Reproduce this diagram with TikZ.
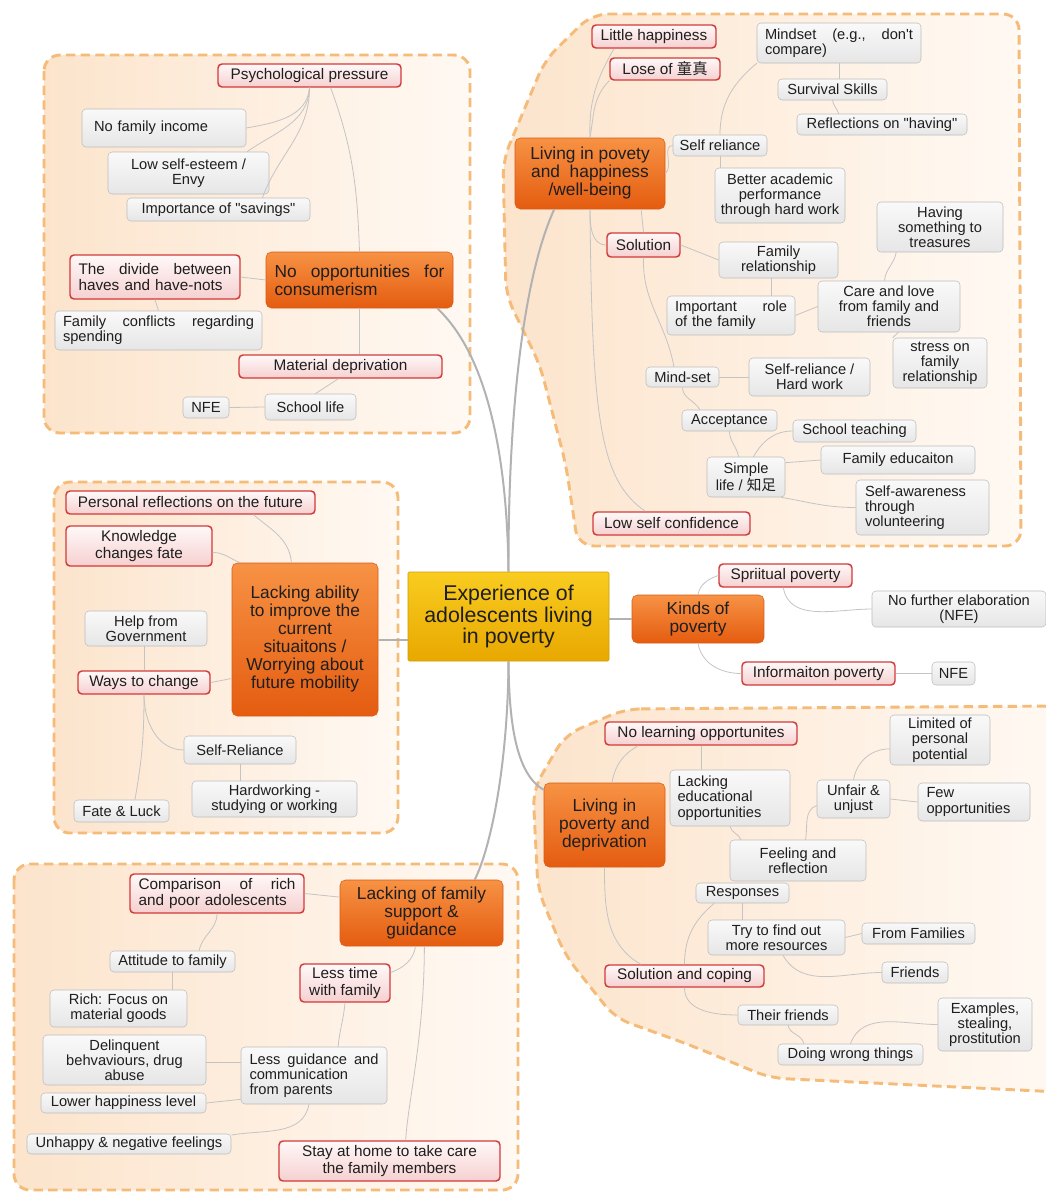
\documentclass[tikz,border=0pt]{standalone}
\usepackage{fontspec}
\setmainfont{Liberation Sans}
\newfontfamily\cjk{Noto Sans CJK SC}
\definecolor{textdark}{HTML}{1E1E1E}
\definecolor{leafline}{HTML}{BDBDBD}
\definecolor{leaftop}{HTML}{F9F9F9}
\definecolor{leafbot}{HTML}{E6E6E6}
\definecolor{subline}{HTML}{D23A3A}
\definecolor{subtop}{HTML}{FFF8F8}
\definecolor{subbot}{HTML}{F6D0D0}
\definecolor{topicline}{HTML}{D95B14}
\definecolor{topictop}{HTML}{F79244}
\definecolor{topicbot}{HTML}{E45C10}
\definecolor{rootline}{HTML}{C9A000}
\definecolor{roottop}{HTML}{F9CC20}
\definecolor{rootbot}{HTML}{E8A800}
\definecolor{blobline}{HTML}{F5BB78}
\definecolor{blobleft}{HTML}{FCE4CC}
\definecolor{blobright}{HTML}{FFF9F3}
\definecolor{linkgray}{HTML}{C4C4C4}
\definecolor{trunkgray}{HTML}{B2B2B2}

\begin{document}
\begin{tikzpicture}[
    x=0.75pt, y=-0.75pt,
    sz/.style 2 args={minimum width=#1*0.75pt, minimum height=#2*0.75pt},
    tw/.style={text width=#1*0.75pt, align=left},
    boxbase/.style={rectangle, rounded corners=3pt, inner sep=2pt, text=textdark, align=center},
    leaf/.style={boxbase, draw=leafline, top color=leaftop, bottom color=leafbot, font=\fontsize{11}{11.4}\selectfont},
    sub/.style={boxbase, draw=subline, line width=1.1pt, top color=subtop, bottom color=subbot, font=\fontsize{11.5}{12.5}\selectfont},
    topic/.style={boxbase, rounded corners=4pt, draw=topicline, top color=topictop, bottom color=topicbot, font=\fontsize{13}{13.5}\selectfont},
    rootbox/.style={boxbase, rounded corners=1pt, draw=rootline, top color=roottop, bottom color=rootbot, font=\fontsize{16}{16}\selectfont},
    blob/.style={draw=blobline, line width=2.2pt, dash pattern=on 7pt off 4pt, rounded corners=12pt, left color=blobleft, right color=blobright},
    link/.style={draw=linkgray, line width=0.6pt},
    trunk/.style={draw=trunkgray, line width=1.5pt}
]
\path[use as bounding box, fill=white] (0,0) rectangle (1046,1193);

% Areas
\draw[blob] (44,55) rectangle (470,433);
\draw[blob] (592,14) -- (1019,14) -- (1021,546) -- (578,546) -- (566,465) -- (540,365) -- (506,295) -- (503,160) -- (545,60) -- cycle;
\draw[blob] (54,482) rectangle (398,833);
\draw[blob] (625,709) -- (1060,706) -- (1060,1092) -- (770,1078) -- (690,1045) -- (615,1018) -- (565,955) -- (538,890) -- (533,790) -- (565,735) -- cycle;
\draw[blob] (14,864) rectangle (518,1190);

% Central topic
\node[rootbox, sz={201}{89}] (root) at (508.5,616.5) {Experience of\\adolescents living\\in poverty};

% Main topics
\node[topic, sz={187}{56}, tw=170] (noopp) at (359.5,280) {No\hfill opportunities\hfill for\\consumerism};
\node[topic, sz={150}{71}] (happy) at (590,173.5) {Living in povety\\and\ \ happiness\\/well-being};
\node[topic, sz={146}{153}] (ability) at (305,639.5) {Lacking ability\\to improve the\\current\\situaitons /\\Worrying about\\future mobility};
\node[topic, sz={132}{48}] (kinds) at (698,619) {Kinds of\\poverty};
\node[topic, sz={121}{84}] (depriv) at (604.5,825) {Living in\\poverty and\\deprivation};
\node[topic, sz={163}{66}] (family) at (421.5,913) {Lacking of family\\support \&\\guidance};

% Consumerism
\node[sub, sz={183}{23}] (psych) at (309.5,75.5) {Psychological pressure};
\node[leaf, sz={164}{38}, tw=140] (income) at (164,128) {No family income};
\node[leaf, sz={161}{42}] (esteem) at (188.5,173) {Low self-esteem /\\Envy};
\node[leaf, sz={183}{23}] (savings) at (218.5,209.5) {Importance of \textquotedbl savings\textquotedbl};
\node[sub, sz={170}{44}, tw=153] (divide) at (155,277) {The\hfill divide\hfill between\\haves and have-nots};
\node[leaf, sz={207}{39}, tw=191] (conflicts) at (158.5,330.5) {Family\hfill conflicts\hfill regarding\\spending};
\node[sub, sz={203}{23}] (material) at (340.5,366.5) {Material deprivation};
\node[leaf, sz={91}{26}] (school) at (310.5,407) {School life};
\node[leaf, sz={46}{21}] (nfeA) at (206,407.5) {NFE};

% Happiness
\node[sub, sz={124}{23}] (little) at (654,36.5) {Little happiness};
\node[sub, sz={110}{22}] (lose) at (665,69) {Lose of {\cjk 童真}};
\node[leaf, sz={164}{40}, tw=148] (mindset) at (839,43) {Mindset\hfill (e.g.,\hfill don\textquotesingle t\\compare)};
\node[leaf, sz={109}{21}] (survival) at (832.5,89.5) {Survival Skills};
\node[leaf, sz={170}{21}] (reflect) at (882,124.5) {Reflections on \textquotedbl having\textquotedbl};
\node[leaf, sz={94}{21}] (selfrel) at (720,145.5) {Self reliance};
\node[leaf, sz={130}{55}] (academic) at (780,195.5) {Better academic\\performance\\through hard work};
\node[leaf, sz={126}{50}] (treasure) at (940,227) {Having\\something to\\treasures};
\node[sub, sz={73}{24}] (solution) at (643.5,245) {Solution};
\node[leaf, sz={119}{36}] (famrel) at (778.5,260) {Family\\relationship};
\node[leaf, sz={128}{39}, tw=112] (role) at (731,315.5) {Important\hfill role\\of the family};
\node[leaf, sz={142}{51}] (care) at (889,306.5) {Care and love\\from family and\\friends};
\node[leaf, sz={94}{50}] (stress) at (940,363) {stress on\\family\\relationship};
\node[leaf, sz={73}{20}] (mindset2) at (682.5,377) {Mind-set};
\node[leaf, sz={121}{38}] (hardwork) at (809.5,377) {Self-reliance /\\Hard work};
\node[leaf, sz={95}{21}] (accept) at (729.5,420.5) {Acceptance};
\node[leaf, sz={123}{22}] (teaching) at (854.5,431) {School teaching};
\node[leaf, sz={78}{40}] (simple) at (746,477) {Simple\\life / {\cjk 知足}};
\node[leaf, sz={154}{28}] (famedu) at (898,460) {Family educaiton};
\node[leaf, sz={133}{55}, tw=115] (aware) at (922.5,507.5) {Self-awareness\\through\\volunteering};
\node[sub, sz={157}{23}] (lowconf) at (671.5,523.5) {Low self confidence};

% Future mobility
\node[sub, sz={249}{23}] (personal) at (190.5,502.5) {Personal reflections on the future};
\node[sub, sz={146}{40}] (knowledge) at (139,546) {Knowledge\\changes fate};
\node[leaf, sz={122}{35}] (gov) at (146,628.5) {Help from\\Government};
\node[sub, sz={132}{23}] (ways) at (144,682.5) {Ways to change};
\node[leaf, sz={112}{28}] (selfrel2) at (240,750) {Self-Reliance};
\node[leaf, sz={165}{36}] (hardwk2) at (274.5,799) {Hardworking -\\studying or working};
\node[leaf, sz={95}{22}] (fate) at (121.5,811) {Fate \& Luck};

% Kinds of poverty
\node[sub, sz={133}{23}] (spiritual) at (785.5,575.5) {Spriitual poverty};
\node[leaf, sz={174}{36}] (nfelab) at (959,609) {No further elaboration\\(NFE)};
\node[sub, sz={153}{23}] (info) at (818.5,673.5) {Informaiton poverty};
\node[leaf, sz={43}{23}] (nfeB) at (953.5,673.5) {NFE};

% Deprivation
\node[sub, sz={192}{23}] (nolearn) at (701,733.5) {No learning opportunites};
\node[leaf, sz={120}{56}, tw=105] (lackedu) at (730,798) {Lacking\\educational\\opportunities};
\node[leaf, sz={100}{50}] (limited) at (940,740) {Limited of\\personal\\potential};
\node[leaf, sz={73}{38}] (unfair) at (853.5,799) {Unfair \&\\unjust};
\node[leaf, sz={112}{38}, tw=95] (few) at (974,802) {Few\\opportunities};
\node[leaf, sz={136}{41}] (feeling) at (798,860.5) {Feeling and\\reflection};
\node[leaf, sz={93}{20}] (responses) at (742.5,893) {Responses};
\node[leaf, sz={137}{35}] (tryfind) at (776.5,937.5) {Try to find out\\more resources};
\node[leaf, sz={113}{21}] (fromfam) at (918.5,933.5) {From Families};
\node[leaf, sz={66}{21}] (friends) at (915,972.5) {Friends};
\node[sub, sz={159}{22}] (coping) at (684.5,976) {Solution and coping};
\node[leaf, sz={100}{20}] (theirfr) at (788,1015) {Their friends};
\node[leaf, sz={94}{53}] (examples) at (985,1024.5) {Examples,\\stealing,\\prostitution};
\node[leaf, sz={145}{21}] (wrong) at (850.5,1054.5) {Doing wrong things};

% Family support
\node[sub, sz={174}{39}, tw=157] (compare) at (217,893.5) {Comparison\hfill of\hfill rich\\and poor adolescents};
\node[leaf, sz={125}{21}] (attitude) at (172.5,961.5) {Attitude to family};
\node[leaf, sz={137}{37}] (rich) at (118.5,1008.5) {Rich: Focus on\\material goods};
\node[sub, sz={90}{38}] (lesstime) at (345,983) {Less time\\with family};
\node[leaf, sz={163}{50}] (delinq) at (124.5,1060) {Delinquent\\behvaviours, drug\\abuse};
\node[leaf, sz={146}{57}, tw=129] (guidance) at (314,1075.5) {Less\hfill guidance\hfill and\\communication\\from parents};
\node[leaf, sz={165}{20}] (lower) at (123.5,1103) {Lower happiness level};
\node[leaf, sz={204}{20}] (unhappy) at (129,1144) {Unhappy \& negative feelings};
\node[sub, sz={221}{40}] (stayhome) at (389.5,1161) {Stay at home to take care\\the family members};

% Main branches
\draw[trunk] (noopp.-20) .. controls (482,350) and (507,440) .. (root.north);
\draw[trunk] (happy.-135) .. controls (522,280) and (508,420) .. (root.north);
\draw[trunk] (ability.east) -- (ability.east -| root.west);
\draw[trunk] (kinds.west) -- (kinds.west -| root.east);
\draw[trunk] (root.south) .. controls (509,730) and (518,775) .. (depriv.150);
\draw[trunk] (root.south) .. controls (508,760) and (492,845) .. (family.32);

% Consumerism links
\draw[link] (psych.south) to[out=-95,in=10] (income.east);
\draw[link] (psych.south) to[out=-92,in=35] (esteem.20);
\draw[link] (psych.south) to[out=-90,in=70] (savings.15);
\draw[link] (psych.-30) to[out=-70,in=92] (noopp.north);
\draw[link] (divide.east) -- (noopp.west);
\draw[link] (divide.south) -- (conflicts.north);
\draw[link] (noopp.south) -- (noopp.south |- material.north);
\draw[link] (material.-100) -- (school.70);
\draw[link] (school.west) -- (nfeA.east);

% Happiness links
\draw[link] (happy.north) to[out=92,in=-120] (little.-163);
\draw[link] (happy.north) to[out=80,in=-135] (lose.south west);
\draw[link] (happy.east) to[out=40,in=180] (selfrel.west);
\draw[link] (selfrel.north) to[out=90,in=-140] (mindset.south west);
\draw[link] (selfrel.south) -- (selfrel.south |- academic.north);
\draw[link] (mindset.south) -- (mindset.south |- survival.north);
\draw[link] (survival.south) to[out=-80,in=110] (reflect.166);
\draw[link] (happy.south) to[out=-90,in=180] (solution.west);
\draw[link] (happy.-35) -- (solution.north);
\draw[link] (solution.east) -- (famrel.west);
\draw[link] (famrel.-110) -- (famrel.-110 |- role.north);
\draw[link] (role.east) -- (care.west);
\draw[link] (care.100) to[out=85,in=-100] (treasure.-150);
\draw[link] (care.-70) -- (stress.north west);
\draw[link] (solution.south) to[out=-92,in=100] (mindset2.130);
\draw[link] (happy.south) .. controls (592,420) and (600,480) .. (lowconf.155);
\draw[link] (mindset2.east) -- (hardwork.west);
\draw[link] (mindset2.south) to[out=-90,in=120] (accept.160);
\draw[link] (accept.south) to[out=-90,in=100] (simple.110);
\draw[link] (simple.70) to[out=60,in=180] (teaching.west);
\draw[link] (simple.20) -- (famedu.west);
\draw[link] (simple.-30) to[out=-10,in=180] (aware.west);

% Future mobility links
\draw[link] (ability.100) to[out=95,in=-40] (personal.-11);
\draw[link] (ability.130) to[out=160,in=0] (knowledge.-5);
\draw[link] (ability.-152) -- (ways.east);
\draw[link] (ways.north) -- (ways.north |- gov.south);
\draw[link] (ways.south) to[out=-90,in=180] (selfrel2.west);
\draw[link] (ways.south) to[out=-90,in=80] (fate.40);
\draw[link] (selfrel2.south) -- (selfrel2.south |- hardwk2.north);

% Kinds links
\draw[link] (kinds.north) to[out=80,in=200] (spiritual.west);
\draw[link] (spiritual.-100) to[out=-80,in=180] (nfelab.west);
\draw[link] (kinds.south) to[out=-80,in=180] (info.west);
\draw[link] (info.east) -- (nfeB.west);

% Deprivation links
\draw[link] (depriv.80) to[out=80,in=-150] (nolearn.-169);
\draw[link] (nolearn.south) -- (nolearn.south |- lackedu.north);
\draw[link] (lackedu.south) to[out=-80,in=110] (feeling.160);
\draw[link] (feeling.70) to[out=80,in=-160] (unfair.-170);
\draw[link] (unfair.north) to[out=80,in=180] (limited.190);
\draw[link] (unfair.east) -- (few.west);
\draw[link] (depriv.south) to[out=-90,in=150] (coping.165);
\draw[link] (coping.north) to[out=90,in=-140] (responses.-160);
\draw[link] (responses.south) -- (responses.south |- tryfind.north);
\draw[link] (tryfind.east) -- (fromfam.west);
\draw[link] (tryfind.-70) to[out=-60,in=180] (friends.west);
\draw[link] (coping.south) to[out=-90,in=180] (theirfr.west);
\draw[link] (theirfr.south) to[out=-80,in=100] (wrong.167);
\draw[link] (wrong.north) to[out=70,in=180] (examples.west);

% Family links
\draw[link] (family.169) -- (compare.east);
\draw[link] (compare.south) to[out=-90,in=80] (attitude.22);
\draw[link] (attitude.south) -- (attitude.south |- rich.north);
\draw[link] (family.-100) to[out=-100,in=20] (lesstime.13);
\draw[link] (family.-85) .. controls (424,1040) and (408,1100) .. (stayhome.52);
\draw[link] (lesstime.south) to[out=-95,in=85] (guidance.50);
\draw[link] (guidance.170) -- (guidance.170 -| delinq.east);
\draw[link] (guidance.-162) -- (lower.east);
\draw[link] (guidance.-100) to[out=-100,in=10] (unhappy.5);

\end{tikzpicture}
\end{document}
